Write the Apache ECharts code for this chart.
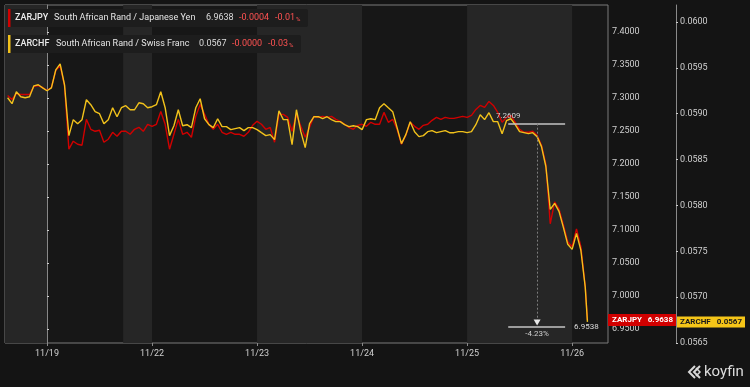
<!DOCTYPE html>
<html><head><meta charset="utf-8">
<script src="https://cdn.jsdelivr.net/npm/echarts@6/dist/echarts.min.js"></script>
<style>html,body{margin:0;padding:0;background:#141414;}#c{width:750px;height:387px;}</style>
</head><body><div id="c"></div>
<script>
// hours of trading time relative to 11/19 open (one trading day = 24 h)
const hours = [];
for (let h = -9; h <= 123; h++) hours.push(h);
hours.push(123.5);

const dayLabels = ['11/19', '11/22', '11/23', '11/24', '11/25', '11/26'];
const dayHours = [0, 24, 48, 72, 96, 120];

const zarjpy = [
  7.3036, 7.2976, 7.3066, 7.3051, 7.3051, 7.3051, 7.3172, 7.3187, 7.3157, 7.3112,
  7.3157, 7.3413, 7.3488, 7.3187, 7.2223, 7.2344, 7.2298, 7.2283, 7.2675, 7.2524,
  7.2494, 7.2509, 7.2328, 7.2374, 7.2479, 7.2419, 7.2494, 7.2494, 7.2449, 7.2524,
  7.2554, 7.2494, 7.2600, 7.2569, 7.2600, 7.2795, 7.2600, 7.2223, 7.2449, 7.2675,
  7.2449, 7.2479, 7.2404, 7.2720, 7.2901, 7.2750, 7.2600, 7.2524, 7.2600, 7.2479,
  7.2449, 7.2479, 7.2449, 7.2449, 7.2419, 7.2479, 7.2584, 7.2645, 7.2600, 7.2524,
  7.2554, 7.2328, 7.2750, 7.2750, 7.2705, 7.2494, 7.2750, 7.2569, 7.2404, 7.2554,
  7.2720, 7.2705, 7.2720, 7.2705, 7.2720, 7.2675, 7.2645, 7.2600, 7.2554, 7.2524,
  7.2584, 7.2600, 7.2569, 7.2630, 7.2600, 7.2600, 7.2780, 7.2630, 7.2675, 7.2524,
  7.2298, 7.2434, 7.2630, 7.2569, 7.2524, 7.2584, 7.2600, 7.2660, 7.2705, 7.2675,
  7.2705, 7.2690, 7.2690, 7.2705, 7.2720, 7.2705, 7.2735, 7.2825, 7.2886, 7.2856,
  7.2946, 7.2886, 7.2780, 7.2630, 7.2705, 7.2735, 7.2630, 7.2524, 7.2479, 7.2479,
  7.2494, 7.2434, 7.2283, 7.1997, 7.1094, 7.1425, 7.1319, 7.1078, 7.0822, 7.0747,
  7.1018, 7.0747, 7.0145,
  6.9638
];

const zarchf = [
  0.059174, 0.059109, 0.059239, 0.059185, 0.059174, 0.059185, 0.059304, 0.059315, 0.059282, 0.059250,
  0.059282, 0.059478, 0.059543, 0.059315, 0.058761, 0.058935, 0.058891, 0.058935, 0.059152, 0.059098,
  0.059022, 0.059000, 0.058891, 0.058935, 0.059065, 0.058967, 0.059065, 0.059087, 0.059043, 0.059043,
  0.059119, 0.059109, 0.059065, 0.059076, 0.059098, 0.059239, 0.059065, 0.058761, 0.058869, 0.059043,
  0.058869, 0.058880, 0.058848, 0.059065, 0.059163, 0.058945, 0.058880, 0.058848, 0.058945, 0.058859,
  0.058859, 0.058826, 0.058837, 0.058848, 0.058815, 0.058848, 0.058848, 0.058826, 0.058793, 0.058761,
  0.058772, 0.058717, 0.059032, 0.058935, 0.058935, 0.058663, 0.059043, 0.058804, 0.058630, 0.058891,
  0.058967, 0.058967, 0.058945, 0.058967, 0.058935, 0.058913, 0.058913, 0.058880, 0.058859, 0.058869,
  0.058859, 0.058826, 0.058935, 0.058945, 0.058935, 0.059065, 0.059109, 0.059065, 0.059022, 0.058848,
  0.058674, 0.058772, 0.058913, 0.058804, 0.058750, 0.058761, 0.058804, 0.058815, 0.058793, 0.058804,
  0.058815, 0.058793, 0.058793, 0.058804, 0.058804, 0.058793, 0.058804, 0.058880, 0.058989, 0.058935,
  0.059011, 0.058913, 0.058913, 0.058782, 0.058924, 0.058945, 0.058880, 0.058804, 0.058793, 0.058782,
  0.058793, 0.058750, 0.058641, 0.058424, 0.057956, 0.058022, 0.057935, 0.057761, 0.057576, 0.057521,
  0.057695, 0.057511, 0.057108,
  0.05673
];

const jpyTicks = [6.95, 7.00, 7.05, 7.10, 7.15, 7.20, 7.25, 7.30, 7.35, 7.40];
const chfTicks = [0.0565, 0.0570, 0.0575, 0.0580, 0.0585, 0.0590, 0.0595, 0.0600];

// shaded sessions (hours)
const bands = [[-9.6, 0], [17.4, 24], [48, 72], [96, 120]];

// measurement annotation
const measureStart = 7.2609, measureEnd = 6.9538, measurePct = '-4.23%';
const measureFrom = 105.4, measureTo = 118.4, measureMid = 112;

const legendRows = [
  { sym: 'ZARJPY', name: 'South African Rand / Japanese Yen', last: '6.9638', chg: '-0.0004', pct: '-0.01', color: '#d10000' },
  { sym: 'ZARCHF', name: 'South African Rand / Swiss Franc', last: '0.0567', chg: '-0.0000', pct: '-0.03', color: '#f2c21b' }
];

const FONT = 'Roboto, "Liberation Sans", sans-serif';
const RED = '#d10000', YEL = '#f2c21b';

const chart = echarts.init(document.getElementById('c'), null, { renderer: 'canvas' });

const option = {
  backgroundColor: '#141414',
  animation: false,
  textStyle: { fontFamily: FONT },
  grid: { left: 5, right: 142, top: 5, bottom: 44, show: true, borderColor: '#7a7a7a', borderWidth: 1, backgroundColor: '#171717' },
  xAxis: {
    type: 'value', min: -9.6, max: 128.2,
    axisLine: { show: false },
    splitLine: { show: false },
    axisTick: { show: true, customValues: dayHours, length: 3, lineStyle: { color: '#8a8a8a' } },
    axisLabel: {
      customValues: dayHours, color: '#cfcfcf', fontSize: 9, margin: 6,
      formatter: v => dayLabels[dayHours.indexOf(v)] || ''
    }
  },
  yAxis: [
    {
      type: 'value', position: 'right', min: 6.9289, max: 7.4406, scale: true,
      axisLine: { show: true, lineStyle: { color: '#8a8a8a' } },
      axisTick: { show: true, customValues: jpyTicks, length: 2, lineStyle: { color: '#cfcfcf' } },
      splitLine: { show: false },
      axisLabel: { customValues: jpyTicks, color: '#cfcfcf', fontSize: 9, margin: 4, formatter: v => v.toFixed(4) }
    },
    {
      type: 'value', position: 'right', offset: 68, min: 0.0565, max: 0.060185, scale: true,
      axisLine: { show: true, lineStyle: { color: '#8a8a8a' } },
      axisTick: { show: true, customValues: chfTicks, length: 2, lineStyle: { color: '#cfcfcf' } },
      splitLine: { show: false },
      axisLabel: { customValues: chfTicks, color: '#cfcfcf', fontSize: 9, margin: 4, formatter: v => v.toFixed(4) }
    }
  ],
  series: [
    {
      name: 'ZARJPY', type: 'line', yAxisIndex: 0, showSymbol: false, symbol: 'none',
      data: hours.map((h, i) => [h, zarjpy[i]]),
      lineStyle: { color: RED, width: 1.4 },
      z: 3,
      markArea: {
        silent: true,
        itemStyle: { color: '#262626' },
        data: bands.map(b => [{ xAxis: b[0] }, { xAxis: b[1] }])
      },
      markLine: {
        silent: true, symbol: 'none',
        lineStyle: { color: '#c4c4c4', width: 1.5, type: 'solid' },
        label: { show: false },
        data: [
          [{ coord: [measureFrom, measureStart] }, { coord: [measureTo, measureStart] }],
          [{ coord: [measureFrom, measureEnd], label: { show: true, position: 'end', formatter: measureEnd.toFixed(4), color: '#dcdcdc', fontSize: 8, distance: 9 } },
           { coord: [measureTo, measureEnd] }],
          [{ coord: [measureMid, measureStart], lineStyle: { color: '#7c7c7c', width: 1, type: [2, 2] } },
           { coord: [measureMid, measureEnd + 0.006] }]
        ]
      },
      markPoint: {
        silent: true,
        data: [
          { coord: [measureFrom, measureStart], symbolSize: 0, label: { show: true, formatter: measureStart.toFixed(4), color: '#cfcfcf', fontSize: 8, offset: [0, -8] } },
          { coord: [measureMid, measureEnd], symbol: 'triangle', symbolRotate: 180, symbolSize: [7, 6], symbolOffset: [0, -4], itemStyle: { color: '#e6e6e6' }, label: { show: false } },
          { coord: [measureMid, measureEnd], symbolSize: 0, label: { show: true, formatter: measurePct, color: '#cfcfcf', fontSize: 8, offset: [0, 7] } }
        ]
      }
    },
    {
      name: 'ZARCHF', type: 'line', yAxisIndex: 1, showSymbol: false, symbol: 'none',
      data: hours.map((h, i) => [h, zarchf[i]]),
      lineStyle: { color: YEL, width: 1.4 },
      z: 4
    }
  ]
};
chart.setOption(option);

// graphics: legend boxes, last-value tags, logo
const g = [];
legendRows.forEach((r, i) => {
  const top = 9 + i * 26, h = 18, w = i === 0 ? 300 : 293;
  const cy = top + h / 2;
  g.push({ type: 'rect', shape: { x: 8, y: top, width: w, height: h, r: 2 }, style: { fill: '#1d1d1d' }, z: 100 });
  g.push({ type: 'rect', shape: { x: 8, y: top, width: 2.5, height: h }, style: { fill: r.color }, z: 101 });
  const items = i === 0
    ? [[15, r.sym, '#ececec', 'bold'], [54, r.name, '#e6e6e6', 'normal'], [206, r.last, '#dcdcdc', 'normal'], [239, r.chg, '#ff5252', 'normal'], [275, r.pct, '#ff5252', 'normal']]
    : [[15, r.sym, '#ececec', 'bold'], [56, r.name, '#e6e6e6', 'normal'], [199, r.last, '#dcdcdc', 'normal'], [232, r.chg, '#ff5252', 'normal'], [268, r.pct, '#ff5252', 'normal']];
  items.forEach((it) => {
    g.push({ type: 'text', x: it[0], y: cy, z: 102,
      style: { text: it[1], fill: it[2], font: `${it[3] === 'bold' ? '500' : 'normal'} 9px ${FONT}`, verticalAlign: 'middle' } });
  });
  // small percent sign
  g.push({ type: 'text', x: i === 0 ? 296 : 289, y: cy + 1, z: 102,
    style: { text: '%', fill: '#ff5252', font: `normal 6px ${FONT}`, verticalAlign: 'middle' } });
});

const lastJ = zarjpy[zarjpy.length - 1], lastC = zarchf[zarchf.length - 1];
const yJ = chart.convertToPixel({ yAxisIndex: 0 }, lastJ);
const yC = chart.convertToPixel({ yAxisIndex: 1 }, lastC);
g.push({ type: 'rect', shape: { x: 608, y: yJ - 6, width: 68, height: 12 }, style: { fill: '#d10000' }, z: 100 });
g.push({ type: 'text', x: 612, y: yJ, z: 101, style: { text: 'ZARJPY', fill: '#ffffff', font: `bold 8px ${FONT}`, verticalAlign: 'middle' } });
g.push({ type: 'text', x: 673, y: yJ, z: 101, style: { text: lastJ.toFixed(4), fill: '#ffffff', font: `bold 8px ${FONT}`, align: 'right', verticalAlign: 'middle' } });
g.push({ type: 'rect', shape: { x: 677, y: yC - 5.5, width: 68, height: 11 }, style: { fill: '#f5c518' }, z: 100 });
g.push({ type: 'text', x: 680, y: yC, z: 101, style: { text: 'ZARCHF', fill: '#1a1a1a', font: `bold 8px ${FONT}`, verticalAlign: 'middle' } });
g.push({ type: 'text', x: 742, y: yC, z: 101, style: { text: lastC.toFixed(4), fill: '#1a1a1a', font: `bold 8px ${FONT}`, align: 'right', verticalAlign: 'middle' } });

// koyfin logo
g.push({ type: 'polyline', shape: { points: [[695, 366], [689, 372], [695, 378]] }, style: { stroke: '#d8d8d8', lineWidth: 2, fill: null }, z: 100 });
g.push({ type: 'polyline', shape: { points: [[700, 366], [694, 372], [700, 378]] }, style: { stroke: '#d8d8d8', lineWidth: 2, fill: null }, z: 100 });
g.push({ type: 'polyline', shape: { points: [[696, 368], [700, 372], [696, 376]] }, style: { stroke: '#d8d8d8', lineWidth: 1.5, fill: null }, z: 100 });
g.push({ type: 'text', x: 704, y: 372, z: 100, style: { text: 'koyfin', fill: '#dcdcdc', font: `normal 15px ${FONT}`, verticalAlign: 'middle' } });

chart.setOption({ graphic: g });
</script>
</body></html>
